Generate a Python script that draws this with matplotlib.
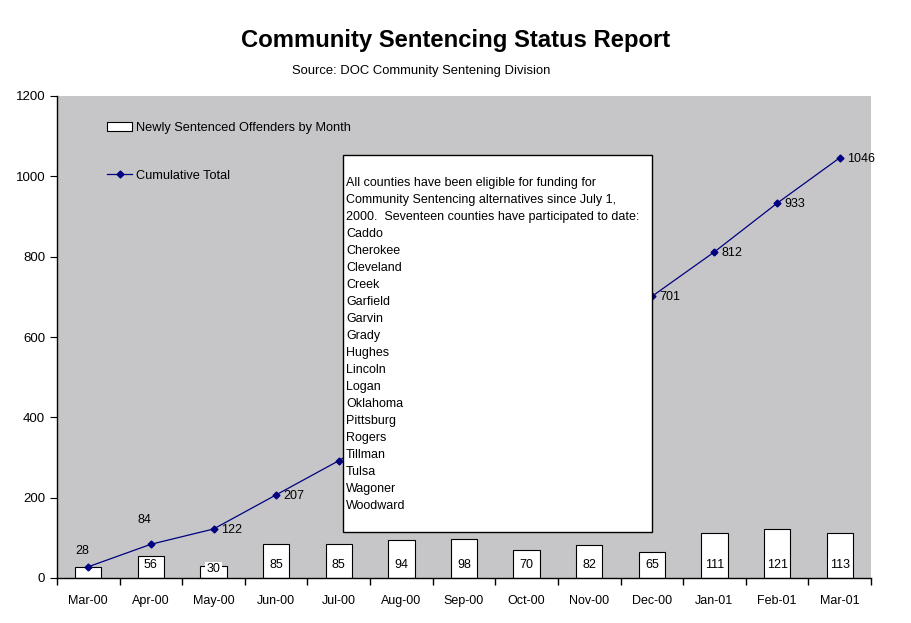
import matplotlib.pyplot as plt
from matplotlib.patches import Rectangle

plt.rcParams['font.family'] = ['Liberation Sans', 'DejaVu Sans']

months = ['Mar-00', 'Apr-00', 'May-00', 'Jun-00', 'Jul-00', 'Aug-00', 'Sep-00',
          'Oct-00', 'Nov-00', 'Dec-00', 'Jan-01', 'Feb-01', 'Mar-01']
new_offenders = [28, 56, 30, 85, 85, 94, 98, 70, 82, 65, 111, 121, 113]
cumulative = [28, 84, 122, 207, 292, 386, 484, 554, 636, 701, 812, 933, 1046]

note_lines = [
    '',
    'All counties have been eligible for funding for',
    'Community Sentencing alternatives since July 1,',
    '2000.  Seventeen counties have participated to date:',
    'Caddo', 'Cherokee', 'Cleveland', 'Creek', 'Garfield', 'Garvin', 'Grady',
    'Hughes', 'Lincoln', 'Logan', 'Oklahoma', 'Pittsburg', 'Rogers', 'Tillman',
    'Tulsa', 'Wagoner', 'Woodward',
]

fig = plt.figure(figsize=(9.11, 6.23), dpi=100)
ax = fig.add_axes([57 / 911, 45 / 623, 814 / 911, 482 / 623])
ax.set_facecolor('#c6c6c9')

x = list(range(len(months)))
bars = ax.bar(x, new_offenders, width=0.42, color='white', edgecolor='black',
              linewidth=0.8, label='Newly Sentenced Offenders by Month', zorder=2)
line, = ax.plot(x, cumulative, color='#000080', linewidth=0.9, marker='D', markersize=3.5,
                label='Cumulative Total', zorder=3)

# bar labels near the base (first one sits under the line marker)
for i, v in enumerate(new_offenders):
    if i == 0:
        continue
    ax.text(i, min(32, v - 8), str(v), ha='center', va='center', fontsize=9,
            zorder=4, bbox=dict(boxstyle='square,pad=0.1', fc='white', ec='none'))

# cumulative labels (those behind the note box are not shown)
for i, v in enumerate(cumulative):
    if i == 0:
        ax.text(i - 0.1, v + 40, str(v), ha='center', va='center', fontsize=9, zorder=4)
    elif i == 1:
        ax.text(i - 0.1, v + 60, str(v), ha='center', va='center', fontsize=9, zorder=4)
    elif 4 <= i <= 8:
        continue
    else:
        ax.text(i + 0.12, v - 2, str(v), ha='left', va='center', fontsize=9, zorder=4)

ax.set_xlim(-0.5, len(months) - 0.5)
ax.set_ylim(0, 1200)
ax.set_yticks(range(0, 1201, 200))
ax.set_xticks([i + 0.5 for i in range(-1, len(months))], minor=False)
ax.set_xticklabels([])
ax.set_xticks(x, minor=True)
ax.set_xticklabels(months, minor=True)
ax.tick_params(axis='x', which='minor', length=0, pad=12, labelsize=9)
ax.tick_params(axis='x', which='major', length=5, direction='out', width=1)
ax.tick_params(axis='y', length=5, direction='out', labelsize=9.5)

for side in ['top', 'right']:
    ax.spines[side].set_visible(False)
ax.spines['left'].set_linewidth(1)
ax.spines['bottom'].set_linewidth(1)

# note box
box = Rectangle((286 / 814, 46 / 482), 309 / 814, 377 / 482, transform=ax.transAxes,
                facecolor='white', edgecolor='black', linewidth=1, zorder=5)
ax.add_patch(box)
for k, txt in enumerate(note_lines):
    y_px = 166 + 17 * k
    ax.text(289 / 814, (578 - y_px) / 482, txt, transform=ax.transAxes,
            ha='left', va='center', fontsize=9, zorder=6)

ax.legend([bars, line], ['Newly Sentenced Offenders by Month', 'Cumulative Total'],
          loc='upper left', bbox_to_anchor=(0.047, 0.97), frameon=False,
          labelspacing=2.8, handlelength=2.0, handletextpad=0.3, fontsize=9.2)

fig.text(0.5, 1 - 40 / 623, 'Community Sentencing Status Report', ha='center',
         va='center', fontsize=17.2, fontweight='bold')
fig.text(421 / 911, 1 - 71 / 623, 'Source: DOC Community Sentening Division',
         ha='center', va='center', fontsize=9.4)

fig.savefig('out.png', dpi=100, facecolor='white')
